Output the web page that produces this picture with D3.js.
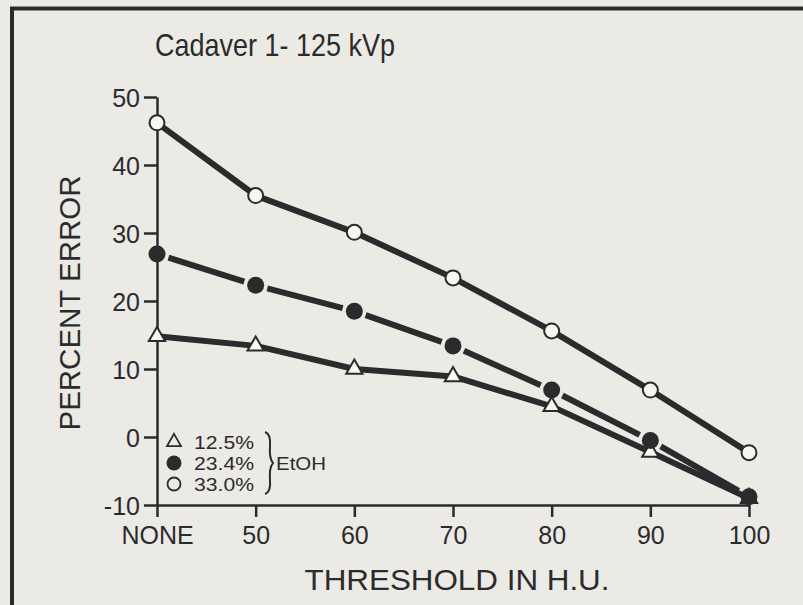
<!DOCTYPE html>
<html>
<head>
<meta charset="utf-8">
<script src="https://cdn.jsdelivr.net/npm/d3@7"></script>
<style>
  html, body { margin: 0; padding: 0; background: #ebeae5; }
  svg { display: block; }
  .axis path, .axis line { stroke: #2b2b2e; stroke-width: 2.5; }
  .axis text { font-family: "Liberation Sans", Arial, sans-serif; font-size: 25px; fill: #2b2b2e; }
</style>
</head>
<body>
<div id="wrapper"></div>
<script>
// 1. Data
const thresholds = ["NONE", "50", "60", "70", "80", "90", "100"]
const yTicks = [-10, 0, 10, 20, 30, 40, 50]
const err125 = [14.8, 13.4, 10.0, 8.9, 4.5, -2.2, -9.0]
const err234 = [26.9, 22.3, 18.5, 13.4, 6.9, -0.5, -8.8]
const err330 = [46.2, 35.5, 30.1, 23.4, 15.6, 6.9, -2.3]
const legendLabels = ["12.5%", "23.4%", "33.0%"]

const ink = "#2b2b2e"
const paper = "#ebeae5"
const font = "'Liberation Sans', Arial, sans-serif"

// 2. Dimensions
const width = 803
const height = 605

const svg = d3.select("#wrapper")
    .append("svg")
    .attr("width", width)
    .attr("height", height)

svg.append("rect")
    .attr("width", width).attr("height", height)
    .attr("fill", paper)

// frame (runs off the right and bottom edges)
svg.append("rect")
    .attr("x", 12).attr("y", 8.5)
    .attr("width", width + 20).attr("height", height + 20)
    .attr("fill", "none")
    .attr("stroke", ink)
    .attr("stroke-width", 4)

// 3. Scales
const xScale = d3.scalePoint()
    .domain(thresholds)
    .range([157, 749])

const yScale = d3.scaleLinear()
    .domain([-10, 50])
    .range([505, 97])

// 4. Axes
const yAxis = svg.append("g")
    .attr("class", "axis")
    .attr("transform", `translate(${xScale("NONE")},0)`)
    .call(d3.axisLeft(yScale)
        .tickValues(yTicks)
        .tickFormat(d => String(d))
        .tickSize(13).tickSizeOuter(0).tickPadding(4))
yAxis.selectAll("text").attr("dy", "0.36em")

const xAxis = svg.append("g")
    .attr("class", "axis")
    .attr("transform", `translate(0,${yScale(-10)})`)
    .call(d3.axisBottom(xScale).tickSize(12).tickSizeOuter(0).tickPadding(9))

// titles
svg.append("text")
    .attr("x", 155).attr("y", 56)
    .attr("font-family", font).attr("font-size", 32)
    .attr("fill", ink)
    .attr("textLength", 240).attr("lengthAdjust", "spacingAndGlyphs")
    .text("Cadaver 1- 125 kVp")

svg.append("text")
    .attr("transform", "translate(80,303) rotate(-90)")
    .attr("text-anchor", "middle")
    .attr("font-family", font).attr("font-size", 30)
    .attr("fill", ink)
    .attr("textLength", 255).attr("lengthAdjust", "spacingAndGlyphs")
    .text("PERCENT ERROR")

svg.append("text")
    .attr("x", 457).attr("y", 590)
    .attr("text-anchor", "middle")
    .attr("font-family", font).attr("font-size", 29)
    .attr("fill", ink)
    .attr("textLength", 305).attr("lengthAdjust", "spacingAndGlyphs")
    .text("THRESHOLD IN H.U.")

// 5. Series
const pts = vals => vals.map((v, i) => [xScale(thresholds[i]), yScale(v)])
const line = d3.line()

// triangles, 12.5%
svg.append("path")
    .attr("d", line(pts(err125)))
    .attr("fill", "none").attr("stroke", ink)
    .attr("stroke-width", 6).attr("stroke-linejoin", "round")

// open circles, 33.0%
svg.append("path")
    .attr("d", line(pts(err330)))
    .attr("fill", "none").attr("stroke", ink)
    .attr("stroke-width", 6).attr("stroke-linejoin", "round")

// filled circles, 23.4% - segments stop short of each marker
const p234 = pts(err234)
const gap = 12
d3.pairs(p234).forEach(([a, b]) => {
    const dx = b[0] - a[0], dy = b[1] - a[1]
    const len = Math.hypot(dx, dy)
    const ux = dx / len, uy = dy / len
    svg.append("line")
        .attr("x1", a[0] + ux * gap).attr("y1", a[1] + uy * gap)
        .attr("x2", b[0] - ux * gap).attr("y2", b[1] - uy * gap)
        .attr("stroke", ink).attr("stroke-width", 6)
})

const triangle = d3.symbol().type(d3.symbolTriangle).size(115)

svg.selectAll(".tri")
    .data(pts(err125))
    .join("path")
    .attr("class", "tri")
    .attr("d", triangle)
    .attr("transform", d => `translate(${d[0]},${d[1]})`)
    .attr("fill", "#f7f6f2").attr("stroke", ink).attr("stroke-width", 2)

svg.selectAll(".dot")
    .data(p234)
    .join("circle")
    .attr("class", "dot")
    .attr("cx", d => d[0]).attr("cy", d => d[1])
    .attr("r", 8.5)
    .attr("fill", ink)

svg.selectAll(".ring")
    .data(pts(err330))
    .join("circle")
    .attr("class", "ring")
    .attr("cx", d => d[0]).attr("cy", d => d[1])
    .attr("r", 7.5)
    .attr("fill", "#f7f6f2").attr("stroke", ink).attr("stroke-width", 2)

// 6. Legend
const legend = svg.append("g").attr("transform", "translate(174,442)")
const rowH = 21

legend.append("path")
    .attr("d", d3.symbol().type(d3.symbolTriangle).size(85)())
    .attr("fill", "none").attr("stroke", ink).attr("stroke-width", 1.8)
legend.append("circle")
    .attr("cy", rowH).attr("r", 7.5)
    .attr("fill", ink)
legend.append("circle")
    .attr("cy", rowH * 2).attr("r", 6.5)
    .attr("fill", "none").attr("stroke", ink).attr("stroke-width", 1.8)

legend.selectAll(".lab")
    .data(legendLabels)
    .join("text")
    .attr("class", "lab")
    .attr("x", 20).attr("y", (d, i) => i * rowH + 7)
    .attr("font-family", font).attr("font-size", 18)
    .attr("fill", ink)
    .attr("textLength", 60).attr("lengthAdjust", "spacingAndGlyphs")
    .text(d => d)

// brace
legend.append("path")
    .attr("d", "M91,-10 Q97,-8 96,4 Q95,16 99,21 Q95,26 96,38 Q97,50 91,52")
    .attr("fill", "none").attr("stroke", ink).attr("stroke-width", 2)

legend.append("text")
    .attr("x", 102).attr("y", rowH + 7)
    .attr("font-family", font).attr("font-size", 18)
    .attr("fill", ink)
    .attr("textLength", 50).attr("lengthAdjust", "spacingAndGlyphs")
    .text("EtOH")
</script>
</body>
</html>
